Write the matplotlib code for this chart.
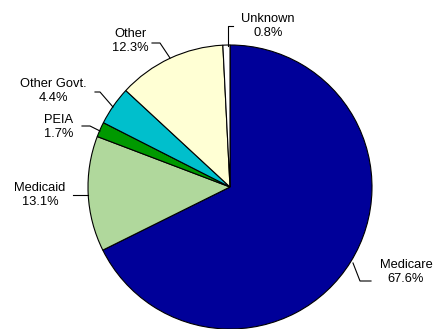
import matplotlib
matplotlib.use("Agg")
import matplotlib.pyplot as plt

categories = ["Medicare", "Medicaid", "PEIA", "Other Govt.", "Other", "Unknown"]
values = [67.6, 13.1, 1.7, 4.4, 12.3, 0.8]
colors = ["#000099", "#B0D89C", "#009900", "#00BFCC", "#FFFFD4", "#FFFFFF"]

W, H = 436, 329
fig = plt.figure(figsize=(W / 100, H / 100), dpi=100)
ax = fig.add_axes([0, 0, 1, 1])
ax.set_xlim(0, W)
ax.set_ylim(0, H)
ax.axis("off")

cx, cy, r = 230, 187, 142
ax.pie(values, colors=colors, startangle=90, counterclock=False,
       center=(cx, H - cy), radius=r,
       wedgeprops=dict(edgecolor="black", linewidth=0.8))
ax.set_xlim(0, W)
ax.set_ylim(0, H)
ax.set_aspect("auto")

# label block centres and leader polylines (pixel layout, y from top)
label_pos = {
    "Medicare": (406, 272),
    "Medicaid": (40, 195),
    "PEIA": (59, 127),
    "Other Govt.": (53, 91),
    "Other": (130, 41),
    "Unknown": (268, 26),
}
leaders = {
    "Medicare": [(353, 263), (360, 281), (371, 281)],
    "Medicaid": [(73, 195), (88, 195)],
    "PEIA": [(82, 126), (90, 126), (100, 131)],
    "Other Govt.": [(95, 92), (100, 92), (113, 107)],
    "Other": [(152, 43), (160, 43), (170, 58)],
    "Unknown": [(228, 46), (228, 26), (233, 26)],
}

for cat, v in zip(categories, values):
    x, y = label_pos[cat]
    ax.text(x, H - y, f"{cat}\n{v:.1f}%", ha="center", va="center",
            fontsize=9.3, family=["Liberation Sans", "DejaVu Sans"],
            linespacing=1.15)
    pts = leaders[cat]
    ax.plot([p[0] for p in pts], [H - p[1] for p in pts],
            color="black", linewidth=0.8)

fig.savefig("out.png", dpi=100)
